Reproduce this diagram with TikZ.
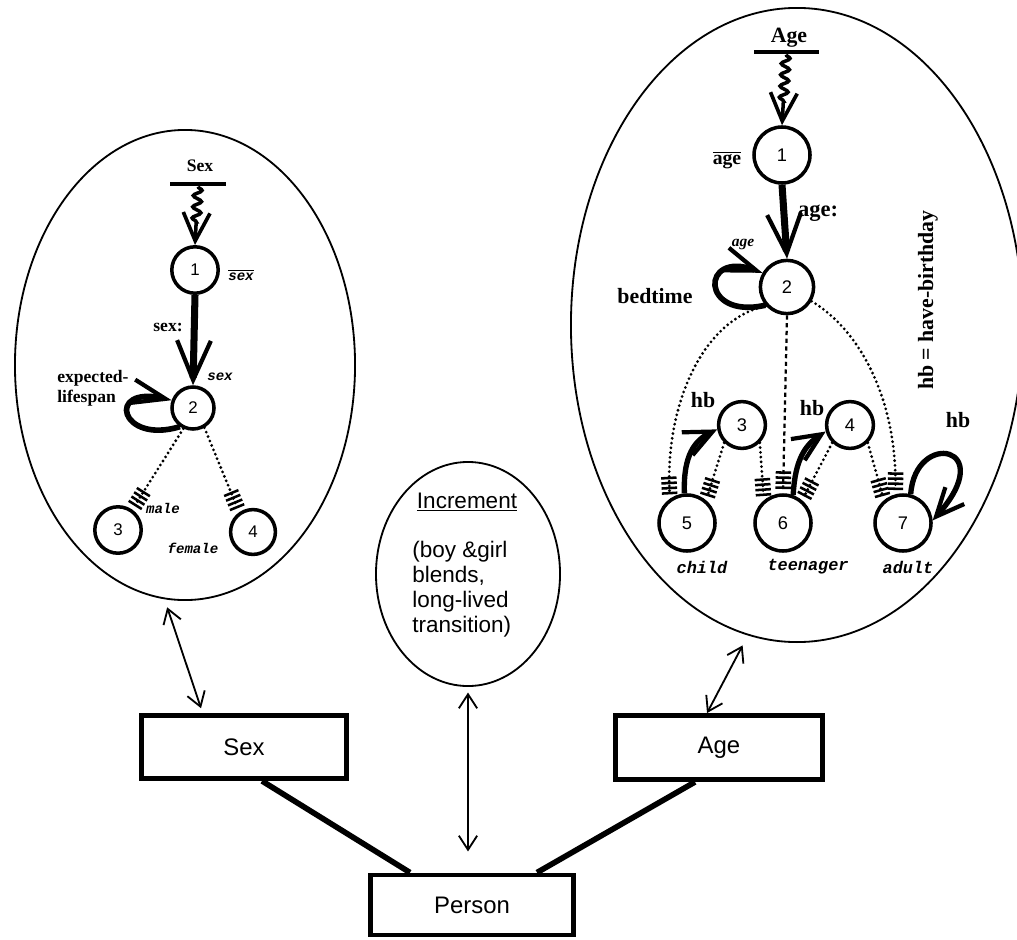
\documentclass[tikz,border=0pt]{standalone}
\usepackage{fontspec}
\setmainfont{Liberation Serif}
\setsansfont{Liberation Sans}
\setmonofont{Liberation Mono}
\usetikzlibrary{arrows.meta,shapes.geometric,decorations.pathmorphing}
\newcommand{\fsz}[2]{\fontsize{#1}{#2}\selectfont}
\begin{document}
\begin{tikzpicture}[x=0.025cm,y=-0.025cm,
    ell/.style={ellipse,draw,line width=1.3pt,inner sep=0pt},
    st/.style={circle,draw,line width=2.5pt,inner sep=0pt,font=\sffamily\fsz{12}{14}},
    box/.style={draw,line width=3.5pt,inner sep=0pt,font=\sffamily\fsz{17}{20}},
    barnode/.style={fill,inner sep=0pt,minimum height=0.12cm},
    lab/.style={inner sep=0pt,font=\bfseries\fsz{12.5}{14.2}},
    biglab/.style={inner sep=0pt,font=\bfseries\fsz{15.5}{18}},
    tt/.style={inner sep=0pt,font=\ttfamily\bfseries\itshape\fsz{10}{12}},
    ttbig/.style={inner sep=0pt,font=\ttfamily\bfseries\itshape\fsz{12}{14}},
    squig/.style={line width=2.5pt,decorate,decoration={snake,amplitude=3pt,segment length=8pt,post length=16pt},-{Straight Barb[length=20pt,width=19pt,line width'=2.6pt]}},
    bigarrow/.style={line width=5pt,-{Straight Barb[length=28pt,width=24pt,line width'=3pt]}},
    loopline/.style={line width=4pt,-{Straight Barb[length=24pt,width=17pt,line width'=3pt]}},
    hbarrow/.style={line width=3.8pt,-{Straight Barb[length=20pt,width=18pt,line width'=3pt]}},
    dotline/.style={line width=2.2pt,line cap=round,dash pattern=on 0pt off 3.4pt},
    dashline/.style={line width=1.6pt,dash pattern=on 3pt off 2.5pt},
    hatch/.style={-{Bar[width=11pt,line width'=1.8pt,sep=1.8pt]Bar[width=11pt,line width'=1.8pt,sep=1.8pt]Bar[width=11pt,line width'=1.8pt,sep=1.8pt]Bar[width=11pt,line width'=1.8pt]},shorten >=3pt},
    dbl/.style={line width=1.3pt,{Straight Barb[length=10pt,width=13pt]}-{Straight Barb[length=10pt,width=13pt]}},
    link/.style={line width=4pt}]
    \useasboundingbox (0,0) rectangle (1017,939);
    % ellipses
    \node[ell,minimum width=8.5cm,minimum height=11.75cm] (sexell) at (185,365) {};
    \node[ell,minimum width=11.3cm,minimum height=15.85cm] (ageell) at (797,325) {};
    \node[ell,minimum width=4.6cm,minimum height=5.6cm] (incell) at (468,574) {};
    % Sex machine
    \node[barnode,minimum width=1.375cm] (sexbar) at (198,184) {};
    \node[lab] (sextitle) at (200,166) {Sex};
    \node[st,minimum size=1.16cm] (s1) at (195,270) {1};
    \node[st,minimum size=1.05cm] (s2) at (193,408) {2};
    \node[st,minimum size=1.16cm] (s3) at (118,530) {3};
    \node[st,minimum size=1.12cm] (s4) at (253,532) {4};
    \draw[squig] (sexbar.south) -- (s1.north);
    \draw[bigarrow] (s1.south) -- (s2.north);
    \draw[dotline,hatch] (s2.245) -- (s3.55);
    \draw[dotline,hatch] (s2.-60) -- (s4.125);
    \draw[loopline] (s2.235) .. controls (120,445) and (105,385) .. (s2.160); %boucle
    \node[lab] at (168,327) {sex:};
    \node[lab,align=left,anchor=west] at (57,388) {expected-\\lifespan};
    \node[tt] at (241,275) {$\overline{\mbox{sex}}$};
    \node[tt] at (220,377) {sex};
    \node[tt] at (163,508) {male};
    \node[tt] at (193,548) {female};
    % Age machine
    \node[barnode,minimum width=1.625cm] (agebar) at (786,52) {};
    \node[biglab] (agetitle) at (789,38) {Age};
    \node[st,minimum size=1.4cm,font=\sffamily\fsz{13}{15}] (a1) at (782,155) {1};
    \node[st,minimum size=1.33cm,font=\sffamily\fsz{13}{15}] (a2) at (787,287) {2};
    \node[st,minimum size=1.17cm,font=\sffamily\fsz{13}{15}] (a3) at (742,425) {3};
    \node[st,minimum size=1.17cm,font=\sffamily\fsz{13}{15}] (a4) at (850,425) {4};
    \node[st,minimum size=1.4cm,font=\sffamily\fsz{13}{15}] (a5) at (687,523) {5};
    \node[st,minimum size=1.4cm,font=\sffamily\fsz{13}{15}] (a6) at (783,523) {6};
    \node[st,minimum size=1.4cm,font=\sffamily\fsz{13}{15}] (a7) at (903,523) {7};
    \draw[squig] (agebar.south) -- (a1.north);
    \draw[bigarrow] (a1.south) -- (a2.north);
    \draw[dotline,hatch] (a2.222) .. controls (700,320) and (665,410) .. (a5.125);
    \draw[dashline,hatch] (a2.south) -- (a6.north);
    \draw[dotline,hatch] (a2.-30) .. controls (860,330) and (897,400) .. (a7.105);
    \draw[dotline,hatch] (a3.225) -- (a5.50);
    \draw[dotline,hatch] (a3.-45) -- (a6.130);
    \draw[dotline,hatch] (a4.225) -- (a6.50);
    \draw[dotline,hatch] (a4.-45) -- (a7.130);
    \draw[loopline] (a2.220) .. controls (700,320) and (700,250) .. (a2.150); %boucle bedtime
    \draw[hbarrow] (a5.95) .. controls (683,455) and (695,440) .. (a3.190);
    \draw[hbarrow] (a6.70) .. controls (795,460) and (805,445) .. (a4.195);
    \draw[hbarrow] (a7.75) .. controls (915,430) and (1000,445) .. (a7.5); %boucle adult
    \node[biglab,font=\bfseries\fsz{14}{16}] at (727,160) {$\overline{\mbox{age}}$};
    \node[biglab,font=\bfseries\fsz{16}{18}] at (818,213) {age:};
    \node[inner sep=0pt,font=\bfseries\itshape\fsz{11}{13}] at (743,245) {age};
    \node[biglab] at (655,296) {bedtime};
    \node[biglab,rotate=90] at (928,300) {hb = have-birthday};
    \node[biglab] at (703,400) {hb};
    \node[biglab] at (812,408) {hb};
    \node[biglab] at (958,420) {hb};
    \node[ttbig] at (702,567) {child};
    \node[ttbig] at (808,567) {teenager};
    \node[ttbig] at (908,567) {adult};
    % Increment
    \node[font=\sffamily\fsz{16}{18},inner sep=0pt] (inctitle) at (467,502) {\underline{Increment}};
    \node[font=\sffamily\fsz{16}{17.8},align=left,anchor=north west,inner sep=0pt] (incbody) at (412,541) {(boy \&girl\\blends,\\long-lived\\transition)};
    % boxes
    \node[box,minimum width=5.125cm,minimum height=1.575cm] (sexbox) at (244,747) {Sex};
    \node[box,minimum width=5.175cm,minimum height=1.6cm] (agebox) at (719,747.5) {Age};
    \node[box,minimum width=5.075cm,minimum height=1.5cm] (person) at (472,905) {Person};
    \draw[link] ([xshift=0.45cm]sexbox.south) -- ([xshift=-1.55cm]person.north);
    \draw[link] ([xshift=-0.6cm]agebox.south) -- ([xshift=1.625cm]person.north);
    \draw[dbl,shorten <=6pt] (sexell.265) -- ([xshift=1.55cm,yshift=0.12cm]sexbox.north west);
    \draw[dbl,shorten <=4pt,shorten >=15pt] (incell.south) -- (incell.south |- person.north);
    \draw[dbl,shorten <=8pt] (ageell.261) -- ([xshift=2.35cm]agebox.north west);
\end{tikzpicture}
\end{document}
